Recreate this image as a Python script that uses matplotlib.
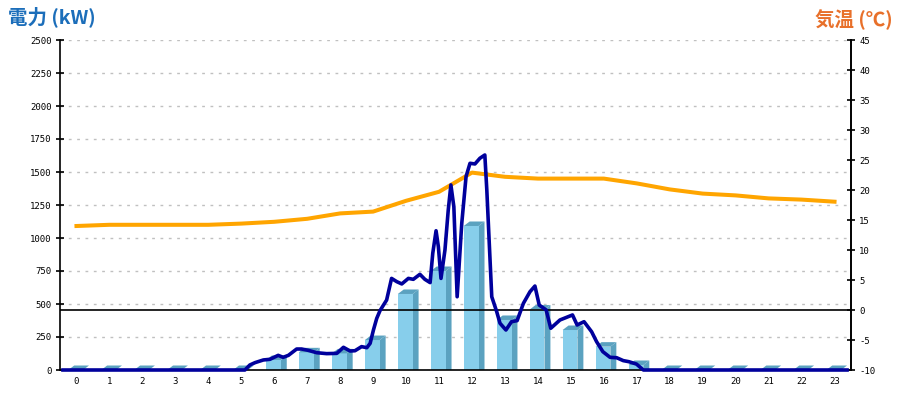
import matplotlib
matplotlib.use("Agg")
import matplotlib.pyplot as plt
from matplotlib.patches import Polygon

plt.rcParams['axes.unicode_minus'] = False

# hourly bars (kW)
hours = list(range(24))
bar_kw = [0, 0, 0, 0, 0, 0, 76, 134, 126, 227, 576, 750,
          1091, 379, 458, 303, 177, 38, 0, 0, 0, 0, 0, 0]

# temperature (deg C), one reading per hour
temp_c = [14.0, 14.2, 14.2, 14.2, 14.2, 14.4, 14.7, 15.2, 16.1, 16.4, 18.2, 19.7,
          22.9, 22.2, 21.9, 21.9, 21.9, 21.1, 20.1, 19.4, 19.1, 18.6, 18.4, 18.05]

# detailed power trace (hour, kW)
pw_t = [-0.41, 5.11, 5.26, 5.42, 5.67, 5.87, 6.12, 6.27, 6.43, 6.68, 6.83, 7.03,
        7.29, 7.59, 7.90, 8.10, 8.30, 8.45, 8.65, 8.81, 8.91, 9.01, 9.11, 9.21,
        9.41, 9.56, 9.72, 9.87, 10.07, 10.22, 10.42, 10.57, 10.73, 10.81, 10.91,
        10.98, 11.06, 11.18, 11.28, 11.36, 11.45, 11.55, 11.69, 11.82, 11.94,
        12.09, 12.24, 12.39, 12.45, 12.52, 12.60, 12.75, 12.85, 13.03, 13.20,
        13.37, 13.56, 13.76, 13.91, 14.04, 14.25, 14.39, 14.67, 14.87, 15.05,
        15.19, 15.40, 15.63, 15.78, 15.97, 16.19, 16.39, 16.59, 16.76, 16.99,
        17.20, 23.38]
pw_kw = [0, 0, 38, 56, 76, 81, 111, 96, 111, 159, 159, 149,
         131, 124, 126, 172, 144, 146, 177, 169, 202, 303, 391, 450,
         530, 694, 669, 652, 694, 687, 725, 687, 662, 884, 1055,
         934, 694, 909, 1212, 1402, 1237, 555, 1111, 1465, 1566,
         1561, 1604, 1629, 1364, 985, 555, 442, 354, 303, 366,
         374, 505, 593, 636, 492, 455, 316, 379, 399, 417,
         341, 366, 290, 215, 139, 96, 93, 71, 63, 45,
         0, 0]

fig = plt.figure(figsize=(9, 4), dpi=100)
ax = fig.add_axes([60/900, 30/400, 791/900, 330/400])
ax2 = ax.twinx()

ax.set_xlim(-0.5, 23.5)
ax.set_ylim(0, 2500)
ax2.set_ylim(-10, 45)

# pseudo 3d bars
front = "#87CEEB"
shade = "#5BA2C0"
off_l, bw, dx, dy = -0.25, 0.45, 0.18, 34
for h, v in zip(hours, bar_kw):
    l = h + off_l
    if v > 0:
        ax.add_patch(Polygon([(l + bw, 0), (l + bw, v), (l + bw + dx, v + dy), (l + bw + dx, 0)],
                             closed=True, fc=shade, ec="none", zorder=2))
        ax.bar(l, v, width=bw, align="edge", color=front, zorder=2)
    ax.add_patch(Polygon([(l, v), (l + bw, v), (l + bw + dx, v + dy), (l + dx, v + dy)],
                         closed=True, fc=shade, ec="none", zorder=2))

ax.set_yticks(range(0, 2501, 250))
ax.set_xticks(hours)
ax.grid(axis="y", color="#c0c0c0", linestyle=(0, (2, 4)), linewidth=1)
ax.set_axisbelow(True)

ax2.set_yticks(range(-10, 46, 5))
ax2.axhline(0, color="black", linewidth=1.2, zorder=3)
ax2.plot(hours, temp_c, color="#FFA500", linewidth=2.9, zorder=4)
ax2.plot(pw_t, pw_kw, color="#00009C", linewidth=2.6, zorder=5, clip_on=False,
         transform=ax.transData, solid_joinstyle="round")

for a in (ax, ax2):
    a.spines["top"].set_visible(False)
    for s in a.spines.values():
        s.set_linewidth(1.2)
ax2.spines["left"].set_visible(False)
ax2.spines["bottom"].set_visible(False)

tick_font = dict(family="DejaVu Sans Mono", size=6.5)
ax.tick_params(axis="y", direction="inout", length=6, width=1.2, pad=3)
ax.tick_params(axis="x", length=0, pad=5)
ax2.tick_params(axis="y", direction="inout", length=6, width=1.2, pad=3)
for lab in ax.get_xticklabels() + ax.get_yticklabels() + ax2.get_yticklabels():
    lab.set_fontfamily(tick_font["family"])
    lab.set_fontsize(tick_font["size"])

fig.text(8/900, 0.958, "電力 (kW)", color="#1C6EBA", fontsize=14, fontweight="bold",
         family=["Noto Sans CJK JP", "DejaVu Sans"], ha="left", va="center")
fig.text(893/900, 0.951, "気温 (℃)", color="#E8702A", fontsize=14, fontweight="bold",
         family=["Noto Sans CJK JP", "DejaVu Sans"], ha="right", va="center")

fig.savefig("out.png", dpi=100)
